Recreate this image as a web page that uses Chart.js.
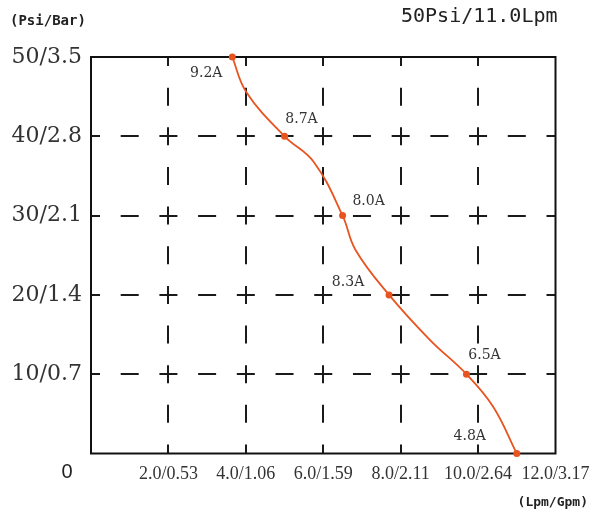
<!DOCTYPE html>
<html>
<head>
  <meta charset="UTF-8">
  <title>Pump Curve 50Psi/11.0Lpm</title>
  <script src="https://cdn.jsdelivr.net/npm/chart.js"></script>
  <style>
    body { margin: 0; background: #fff; }
    #wrap { width: 591px; height: 515px; position: relative; }
  </style>
</head>
<body>
  <div id="wrap"><canvas id="pumpChart"></canvas></div>

  <script>
    // Axis tick labels (Lpm/Gpm on x, Psi/Bar on y)
    const xTickLabels = ['', '2.0/0.53', '4.0/1.06', '6.0/1.59', '8.0/2.11', '10.0/2.64', '12.0/3.17'];
    const yTickLabels = ['', '10/0.7', '20/1.4', '30/2.1', '40/2.8', '50/3.5'];

    // Rated points with current draw
    const ratedFlow = [3.65, 5.0, 6.5, 7.7, 9.7, 11.0];
    const ratedPsi = [50, 40, 30, 20, 10, 0];
    const ratedAmps = ['9.2A', '8.7A', '8.0A', '8.3A', '6.5A', '4.8A'];

    // Curve (passes through the rated points)
    const curveFlow = [3.65, 4.01, 5.0, 5.75, 6.5, 6.83, 7.7, 8.76, 9.7, 10.39, 11.0];
    const curvePsi = [50, 45.6, 40, 36.8, 30, 25.7, 20, 14.3, 10, 5.9, 0];

    const lineColor = '#e8541f';

    // dashed grid: dashes centred on the crossings and half-way between them
    const gridPlugin = {
      id: 'dashGrid',
      beforeDatasetsDraw(chart) {
        const { ctx, chartArea: a, scales: { x, y } } = chart;
        const hx = (x.getPixelForValue(2) - x.getPixelForValue(0)) / 2;
        const hy = (y.getPixelForValue(0) - y.getPixelForValue(10)) / 2;
        const dash = 18;
        ctx.save();
        ctx.strokeStyle = '#1a1a1a';
        ctx.lineWidth = 2;
        x.ticks.slice(1, -1).forEach(t => {
          const px = Math.round(x.getPixelForValue(t.value));
          ctx.setLineDash([dash, hy - dash]);
          ctx.lineDashOffset = dash / 2;
          ctx.beginPath();
          ctx.moveTo(px, a.top);
          ctx.lineTo(px, a.bottom);
          ctx.stroke();
        });
        y.ticks.slice(1, -1).forEach(t => {
          const py = Math.round(y.getPixelForValue(t.value));
          ctx.setLineDash([dash, hx - dash]);
          ctx.lineDashOffset = dash / 2;
          ctx.beginPath();
          ctx.moveTo(a.left, py);
          ctx.lineTo(a.right, py);
          ctx.stroke();
        });
        // solid frame
        ctx.setLineDash([]);
        ctx.strokeStyle = '#111';
        ctx.strokeRect(a.left, a.top, a.right - a.left, a.bottom - a.top);
        ctx.restore();
      }
    };

    const textPlugin = {
      id: 'texts',
      afterDraw(chart) {
        const { ctx, chartArea: a } = chart;
        const meta = chart.getDatasetMeta(1);
        const offs = [[-26, 16], [17, -17], [26, -14], [-41, -13], [18, -19], [-47, -17]];
        ctx.save();
        ctx.fillStyle = '#333';
        ctx.textAlign = 'center';
        ctx.textBaseline = 'middle';
        ctx.font = '14px "DejaVu Serif"';
        meta.data.forEach((pt, i) => {
          ctx.fillText(ratedAmps[i], pt.x + offs[i][0], pt.y + offs[i][1]);
        });

        ctx.fillStyle = '#222';
        ctx.font = 'bold 14px "DejaVu Sans Mono"';
        ctx.textAlign = 'left';
        ctx.fillText('(Psi/Bar)', 10, 21);

        ctx.font = '20px "DejaVu Sans Mono"';
        ctx.textAlign = 'right';
        ctx.fillText('50Psi/11.0Lpm', a.right + 2, 17);

        ctx.font = 'bold 13px "DejaVu Sans Mono"';
        ctx.fillText('(Lpm/Gpm)', 588, 503);

        ctx.font = '20px "Liberation Sans"';
        ctx.textAlign = 'center';
        ctx.fillText('0', 67, 472);
        ctx.restore();
      }
    };

    new Chart(document.getElementById('pumpChart').getContext('2d'), {
      type: 'scatter',
      data: {
        datasets: [{
          data: curveFlow.map((x, i) => ({ x: x, y: curvePsi[i] })),
          showLine: true,
          borderColor: lineColor,
          borderWidth: 1.8,
          pointRadius: 0,
          tension: 0.4,
          clip: false
        }, {
          data: ratedFlow.map((x, i) => ({ x: x, y: ratedPsi[i] })),
          showLine: false,
          backgroundColor: lineColor,
          borderWidth: 0,
          pointRadius: 3.5,
          clip: false
        }]
      },
      options: {
        responsive: true,
        maintainAspectRatio: false,
        animation: false,
        layout: { padding: { top: 57, right: 35.5, left: 0, bottom: 0 } },
        plugins: { legend: { display: false }, tooltip: { enabled: false } },
        scales: {
          x: {
            type: 'linear',
            min: 0, max: 12,
            afterFit: (s) => { s.height = 61.5; s.paddingLeft = 0; s.paddingRight = 0; },
            ticks: {
              stepSize: 2,
              autoSkip: false,
              maxRotation: 0,
              padding: 10,
              color: '#333',
              font: { family: '"Liberation Serif"', size: 18 },
              callback: (v) => xTickLabels[Math.round(v / 2)]
            },
            grid: { display: false, drawTicks: false },
            border: { display: false }
          },
          y: {
            type: 'linear',
            min: 0, max: 50,
            afterFit: (s) => { s.width = 91; s.paddingTop = 0; s.paddingBottom = 0; },
            ticks: {
              stepSize: 10,
              padding: 9,
              color: '#333',
              font: { family: '"DejaVu Serif"', size: 22 },
              callback: (v) => yTickLabels[Math.round(v / 10)]
            },
            grid: { display: false, drawTicks: false },
            border: { display: false }
          }
        }
      },
      plugins: [gridPlugin, textPlugin]
    });
  </script>
</body>
</html>
